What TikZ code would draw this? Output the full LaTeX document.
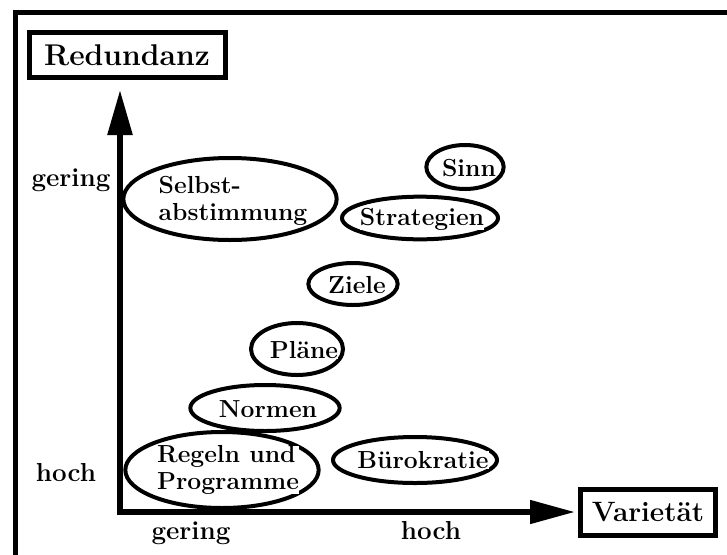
\documentclass[tikz,border=0pt]{standalone}
\usetikzlibrary{shapes.geometric,arrows.meta}
\tikzset{blob/.style={ellipse,draw,line width=3pt,inner sep=0pt},
  blobtext/.style={fill=white,inner sep=0pt,align=left,font=\fontsize{18.5}{20}\selectfont\bfseries},
  titlebox/.style={draw,line width=3.75pt,inner sep=0pt,font=\fontsize{22.5}{24}\selectfont\bfseries},
  ticklabel/.style={font=\fontsize{19.5}{21}\selectfont\bfseries}}

\begin{document}
\begin{tikzpicture}[x=0.75pt,y=-0.75pt]
\useasboundingbox (0,0) rectangle (727,554);
% frame
\draw[line width=3.75pt] (15.5,560) -- (15.5,12.5) -- (735,12.5);
% axis titles
\node[titlebox,minimum width=147pt,minimum height=34pt] (redundanz) at (127,55) {Redundanz};
\node[titlebox,minimum width=101pt,minimum height=34.5pt,font=\fontsize{21}{24}\selectfont\bfseries] (varietaet) at (648,512.5) {Variet\"at};
% draw axes
\coordinate (origin) at (120,512);
\coordinate (ytip) at (120,90);
\coordinate (xtip) at (575,512);
\draw[line width=4.25pt,line join=miter,{Triangle[length=33.75pt,width=18pt]}-{Triangle[length=33.75pt,width=17pt]}] (ytip) -- (origin) -- (xtip);
% axis marks
\node[ticklabel] (ygering) at (71,180) {gering};
\node[ticklabel] (yhoch) at (66,473) {hoch};
\node[ticklabel] (xgering) at (191,533) {gering};
\node[ticklabel] (xhoch) at (431,531) {hoch};
% draw ellipses
\node[blob,minimum width=160pt,minimum height=61.5pt] (selbst) at (230,199) {};
\node[blob,minimum width=58pt,minimum height=33pt] (sinn) at (465,167) {};
\node[blob,minimum width=117pt,minimum height=32pt] (strategien) at (420,218) {};
\node[blob,minimum width=67pt,minimum height=31.5pt] (ziele) at (353,284) {};
\node[blob,minimum width=69pt,minimum height=39pt] (plaene) at (297,349) {};
\node[blob,minimum width=112pt,minimum height=34.5pt] (normen) at (265,408) {};
\node[blob,minimum width=145pt,minimum height=57pt] (regeln) at (222,470) {};
\node[blob,minimum width=123pt,minimum height=34.5pt] (buerokratie) at (415,460) {};
% ellipse texts
\node[blobtext] (selbst-t) at (233,201) {Selbst-\\abstimmung};
\node[blobtext] (sinn-t) at (469,168) {Sinn};
\node[blobtext] (strategien-t) at (422,219) {Strategien};
\node[blobtext] (ziele-t) at (357,285) {Ziele};
\node[blobtext] (plaene-t) at (304,350) {Pl\"ane};
\node[blobtext] (normen-t) at (268,409) {Normen};
\node[blobtext] (regeln-t) at (228,470) {Regeln und\\Programme};
\node[blobtext] (buerokratie-t) at (423,460) {B\"urokratie};
\end{tikzpicture}
\end{document}
